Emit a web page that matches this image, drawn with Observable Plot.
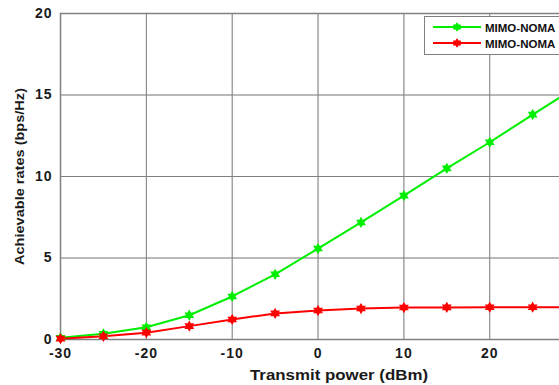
<!DOCTYPE html>
<html><head><meta charset="utf-8">
<script src="https://cdn.jsdelivr.net/npm/d3@7"></script>
<script src="https://cdn.jsdelivr.net/npm/@observablehq/plot@0.6"></script>
<style>
html,body{margin:0;padding:0;overflow:hidden;background:#fff;width:559px;height:385px;}
#chart{width:640px;}
#chart svg{max-width:none !important;display:block;}
</style></head>
<body><div id="chart"></div>
<script>
const power = [-30,-25,-20,-15,-10,-5,0,5,10,15,20,25,30];
const seriesA = [0.1,0.35,0.75,1.49,2.64,4.0,5.58,7.18,8.83,10.5,12.1,13.8,15.45];
const seriesB = [0.05,0.2,0.42,0.82,1.23,1.6,1.78,1.9,1.96,1.97,1.98,1.98,1.98];
const seriesNames = ["MIMO-NOMA","MIMO-NOMA"];
const colors = ["#00ee00","#ff0000"];
const xTicks = [-30,-20,-10,0,10,20,30];
const xTickLabels = [-30,-20,-10,0,10,20];
const yTicks = [0,5,10,15,20];

const rows = [];
power.forEach((p,i)=>{ rows.push({p, v: seriesA[i], s: 0}); rows.push({p, v: seriesB[i], s: 1}); });

const hexagram = {
  draw(ctx, size) {
    const R = Math.sqrt(size / Math.PI) * 1.15;
    const r = R / Math.sqrt(3);
    for (let k = 0; k < 12; k++) {
      const rad = k % 2 === 0 ? R : r;
      const a = -Math.PI/2 + k * Math.PI / 6;
      const x = rad * Math.cos(a), y = rad * Math.sin(a);
      if (k === 0) ctx.moveTo(x, y); else ctx.lineTo(x, y);
    }
    ctx.closePath();
  }
};

const font = "'Liberation Sans', Arial, sans-serif";
const chart = Plot.plot({
  width: 640, height: 385,
  marginLeft: 60, marginRight: 22, marginTop: 13, marginBottom: 46,
  style: {fontFamily: font, fontSize: "14px", fontWeight: "bold", color: "#222", background: "#fff", overflow: "visible", maxWidth: "none"},
  x: {domain: [-30, 35], ticks: xTicks, label: null},
  y: {domain: [0, 20], ticks: yTicks, label: null},
  marks: [
    Plot.gridX(xTicks, {stroke: "#e2e2e2", strokeOpacity: 1, strokeWidth: 1}),
    Plot.gridY(yTicks, {stroke: "#e2e2e2", strokeOpacity: 1, strokeWidth: 1}),
    Plot.frame({stroke: "#808080", strokeWidth: 1.5}),
    Plot.tickX(xTicks, {x: d => d, y1: 0, y2: 0.35, stroke: "#808080"}),
    Plot.tickY(yTicks, {y: d => d, x1: -30, x2: -29.4, stroke: "#808080"}),
    Plot.axisX(xTickLabels, {tickSize: 0, tickPadding: 9, fontSize: 14, fontWeight: "bold", fill: "#1a1a1a", tickFormat: d => String(d), label: null}),
    Plot.axisY(yTicks, {tickSize: 0, tickPadding: 8, fontSize: 14, fontWeight: "bold", fill: "#1a1a1a", tickFormat: d => String(d), label: null}),
    Plot.line(rows, {x: "p", y: "v", z: "s", stroke: d => colors[d.s], strokeWidth: 2}),
    Plot.dot(rows, {x: "p", y: "v", fill: d => colors[d.s], stroke: d => colors[d.s], symbol: hexagram, r: 3.6})
  ]
});

const svg = d3.select(chart);
svg.selectAll("g[aria-label='x-axis tick label'] text, g[aria-label='y-axis tick label'] text").attr("letter-spacing", "1px");
svg.append("text").attr("x", 250).attr("y", 380).attr("text-anchor", "start")
  .attr("font-family", font).attr("font-weight", "bold").attr("font-size", 14).attr("fill", "#1a1a1a")
  .attr("textLength", 178).attr("lengthAdjust", "spacingAndGlyphs")
  .text("Transmit power (dBm)");
svg.append("text").attr("transform", "translate(24,265) rotate(-90)").attr("text-anchor", "start")
  .attr("font-family", font).attr("font-weight", "bold").attr("font-size", 13.5).attr("fill", "#1a1a1a")
  .attr("textLength", 177).attr("lengthAdjust", "spacingAndGlyphs")
  .text("Achievable rates (bps/Hz)");

const lg = svg.append("g");
lg.append("rect").attr("x", 424.5).attr("y", 16.5).attr("width", 200).attr("height", 38)
  .attr("fill", "#fff").attr("stroke", "#808080").attr("stroke-width", 1);
const sym = d3.symbol().type(hexagram).size(Math.PI * 3.6 * 3.6);
seriesNames.forEach((name, i) => {
  const y = 27 + i * 16;
  lg.append("line").attr("x1", 433).attr("x2", 481).attr("y1", y).attr("y2", y)
    .attr("stroke", colors[i]).attr("stroke-width", 2);
  lg.append("path").attr("d", sym()).attr("transform", `translate(457,${y})`).attr("fill", colors[i]).attr("stroke", colors[i]);
  lg.append("text").attr("x", 485).attr("y", y + 4.5).attr("text-anchor", "start").attr("font-family", font).attr("font-weight", "bold")
    .attr("font-size", 11.5).attr("fill", "#111").text(name);
});

document.getElementById("chart").appendChild(chart);
</script>
</body></html>
